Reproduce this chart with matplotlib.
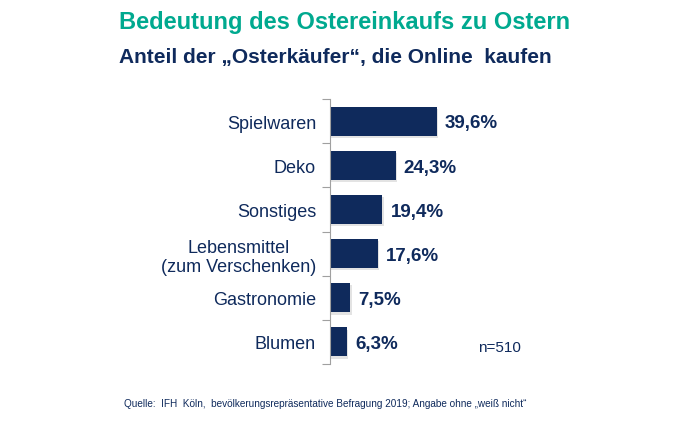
import matplotlib.pyplot as plt
import numpy as np

# Daten
kategorien = ["Spielwaren", "Deko", "Sonstiges", "Lebensmittel\n(zum Verschenken)", "Gastronomie", "Blumen"]
werte = [39.6, 24.3, 19.4, 17.6, 7.5, 6.3]
werte_text = ["39,6%", "24,3%", "19,4%", "17,6%", "7,5%", "6,3%"]

navy = "#0f2a5c"
gruen = "#00a98f"
plt.rcParams['font.family'] = ['Liberation Sans', 'DejaVu Sans']

fig = plt.figure(figsize=(6.86, 4.31), dpi=100)
ax = fig.add_axes([330 / 686, 1 - 365 / 431, 270 / 686, 265 / 431])

y = np.arange(len(kategorien))
# leichter Schatten
ax.barh(y + 0.05, werte, height=0.66, left=0.5, color="#c8c8c8", alpha=0.5, zorder=1)
ax.barh(y, werte, height=0.66, color=navy, zorder=2)
ax.set_ylim(len(kategorien) - 0.5, -0.5)
ax.set_xlim(0, 100)

for i, (w, t) in enumerate(zip(werte, werte_text)):
    ax.text(w + 3.0, i + 0.04, t, ha="left", va="center", fontsize=13.5,
            fontweight="bold", color=navy)

ax.set_yticks(np.arange(len(kategorien) + 1) - 0.5, minor=False)
ax.set_yticklabels([])
ax.set_yticks(y, minor=True)
ax.set_yticklabels(kategorien, minor=True, fontsize=13, color=navy)
ax.tick_params(axis="y", which="minor", length=0, pad=10)
ax.tick_params(axis="y", which="major", length=6, color="#a0a0a0", width=0.8)
for lbl in ax.get_yticklabels(minor=True):
    lbl.set_multialignment("center")
ax.set_xticks([])
for s in ["top", "right", "bottom"]:
    ax.spines[s].set_visible(False)
ax.spines["left"].set_color("#a0a0a0")
ax.spines["left"].set_linewidth(0.8)

fig.text(345 / 686, 1 - 22 / 431, "Bedeutung des Ostereinkaufs zu Ostern", ha="center", va="center",
         fontsize=17, fontweight="bold", color=gruen)
fig.text(335 / 686, 1 - 57 / 431, "Anteil der \u201eOsterkäufer\u201c, die Online  kaufen", ha="center",
         va="center", fontsize=15, fontweight="bold", color=navy)
fig.text(478 / 686, 1 - 348 / 431, "n=510", ha="left", va="center", fontsize=11, color=navy)
fig.text(124 / 686, 1 - 404 / 431,
         "Quelle:  IFH  Köln,  bevölkerungsrepräsentative Befragung 2019; Angabe ohne \u201eweiß nicht\u201c",
         ha="left", va="center", fontsize=7.2, color=navy)

fig.savefig("out.png", dpi=100)
